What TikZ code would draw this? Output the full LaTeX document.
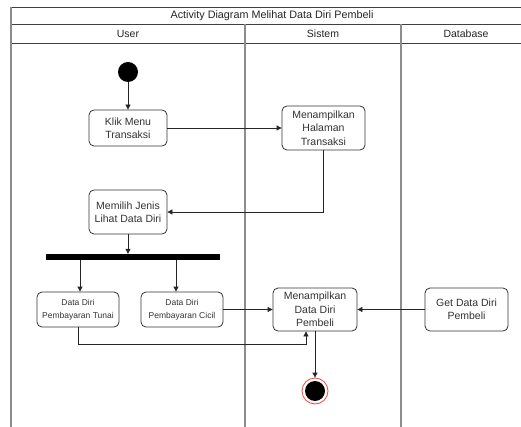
\documentclass[tikz,border=0pt]{standalone}
\usepackage{fontspec}
\setmainfont{Liberation Sans}
\usetikzlibrary{arrows.meta}
\begin{document}
\begin{tikzpicture}[x=1pt,y=-1pt,
  rule/.style={draw=black!75, line width=0.9pt},
  lane/.style={draw=black!45, line width=1.3pt},
  act/.style={draw=black!80, line width=0.8pt, rounded corners=5pt, align=center,
    font=\fontsize{10.5}{13.3}\selectfont, text=black!80, inner sep=0pt},
  smallact/.style={act, font=\fontsize{8.5}{12.7}\selectfont},
  flow/.style={draw=black!85, line width=0.8pt, -{Triangle[length=5pt,width=5pt]}},
  head/.style={font=\fontsize{10.5}{12}\selectfont, text=black!85, inner sep=0pt}
]
\useasboundingbox (0,0) rectangle (521,427);
\fill[white] (0,0) rectangle (521,427);

% swimlane frame
\draw[rule] (11,7) -- (521,7);
\draw[rule] (11,24) -- (521,24);
\draw[rule] (11,43) -- (521,43);
\draw[lane] (11,7) -- (11,427);
\draw[lane] (245,24) -- (245,427);
\draw[lane] (401,24) -- (401,427);

\node[head, font=\fontsize{10.8}{12}\selectfont] (title) at (272,15.5) {Activity Diagram Melihat Data Diri Pembeli};
\node[head] (huser) at (128,33.5) {User};
\node[head] (hsis) at (323,33.5) {Sistem};
\node[head] (hdb) at (466,33.5) {Database};

% activities
\node[circle, fill=black, minimum size=20pt, inner sep=0pt] (start) at (128,72) {};
\node[act, minimum width=78pt, minimum height=36pt] (klik) at (128,128) {Klik Menu\\Transaksi};
\node[act, minimum width=83pt, minimum height=44pt] (halaman) at (323.5,128) {Menampilkan\\Halaman\\Transaksi};
\node[act, minimum width=78pt, minimum height=44pt] (memilih) at (128,212) {Memilih Jenis\\Lihat Data Diri};
\node[fill=black, minimum width=174pt, minimum height=6pt, inner sep=0pt] (bar) at (133,257) {};
\node[smallact, minimum width=82pt, minimum height=35pt] (tunai) at (78,309.5) {Data Diri\\Pembayaran Tunai};
\node[smallact, minimum width=82pt, minimum height=35pt] (cicil) at (182,309.5) {Data Diri\\Pembayaran Cicil};
\node[act, minimum width=84pt, minimum height=43pt] (tampil) at (315,309.5) {Menampilkan\\Data Diri\\Pembeli};
\node[act, minimum width=83pt, minimum height=43pt] (getdata) at (466.5,309.5) {Get Data Diri\\Pembeli};
\node[circle, draw=red!75, line width=0.8pt, fill=white, minimum size=26pt, inner sep=0pt] (stop) at (315,391) {};
\node[circle, fill=black, minimum size=20pt, inner sep=0pt] (stopdot) at (stop) {};

% control flow
\draw[flow] (start) -- (klik);
\draw[flow] (klik) -- (halaman);
\draw[flow] (halaman.south) |- (memilih.east);
\draw[flow] (memilih.south) -- (memilih.south |- bar.north);
\draw[flow] ([xshift=2pt]tunai.north |- bar.south) -- ([xshift=2pt]tunai.north);
\draw[flow] ([xshift=-6pt]cicil.north |- bar.south) -- ([xshift=-6pt]cicil.north);
\draw[flow] (cicil) -- (tampil);
\coordinate (join) at (306,344);
\draw[flow] (tunai.south) |- (join) -- ([xshift=-9pt]tampil.south);
\draw[flow] (getdata) -- (tampil);
\draw[flow] (tampil.south) -- (stop.north);
\end{tikzpicture}
\end{document}
